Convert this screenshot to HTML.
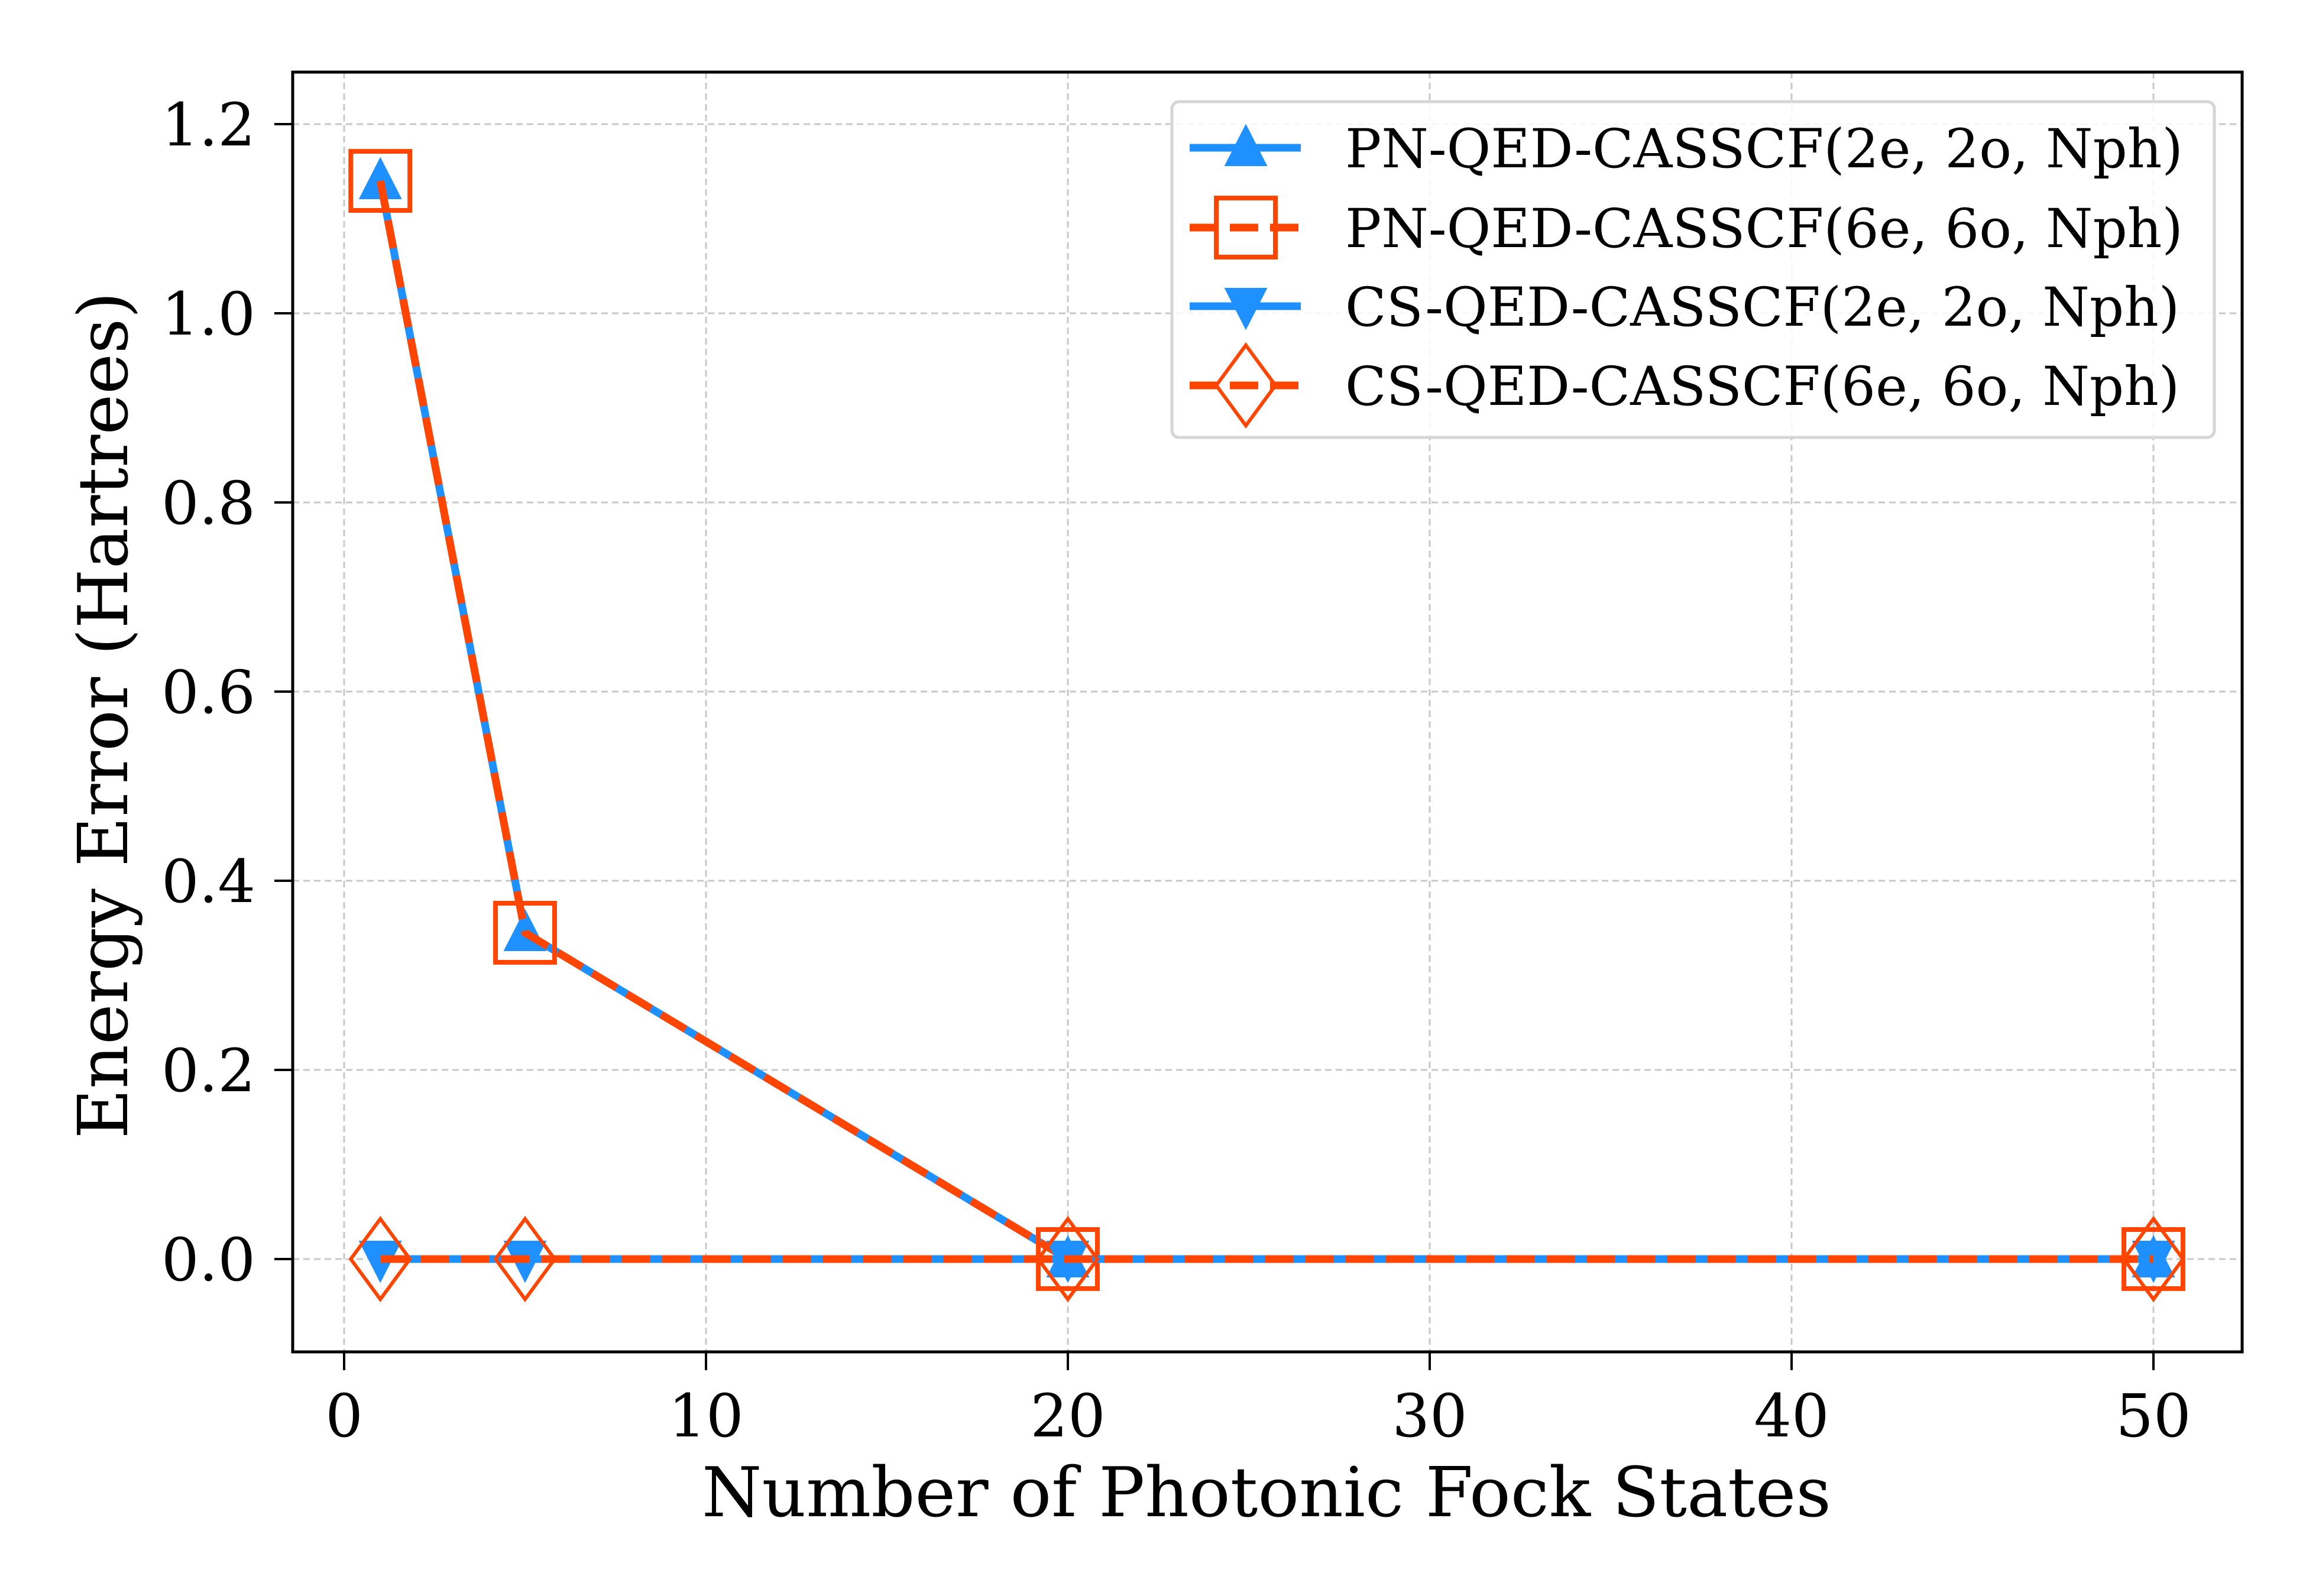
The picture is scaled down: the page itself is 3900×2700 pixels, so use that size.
<!DOCTYPE html>
<html><head><meta charset="utf-8"><style>
html,body{margin:0;padding:0;background:#fff;}
svg{display:block;font-family:"DejaVu Serif","Liberation Serif",serif;}
</style></head><body>
<svg id="chart" width="3900" height="2700" viewBox="0 0 3900 2700" xmlns="http://www.w3.org/2000/svg">
<rect width="3900" height="2700" fill="#fff"/>
<g id="grid"></g>
<g id="series"></g>
<rect x="495" y="122" width="3297" height="2165" fill="none" stroke="#000" stroke-width="5"/>
<g id="ticks"></g>
<text x="2142" y="2565" font-size="116" text-anchor="middle">Number of Photonic Fock States</text>
<text transform="translate(215,1210) rotate(-90)" font-size="116" text-anchor="middle">Energy Error (Hartrees)</text>
<g id="legend"></g>
</svg>
<script>
const xValues = [1, 5, 20, 50];
const pn2e = [1.14, 0.345, 0.0, 0.0];
const pn6e = [1.14, 0.345, 0.0, 0.0];
const cs2e = [0.0, 0.0, 0.0, 0.0];
const cs6e = [0.0, 0.0, 0.0, 0.0];
const xTicks = [0, 10, 20, 30, 40, 50];
const yTicks = [0.0, 0.2, 0.4, 0.6, 0.8, 1.0, 1.2];
const yTickLabels = ["0.0", "0.2", "0.4", "0.6", "0.8", "1.0", "1.2"];
const seriesNames = ["PN-QED-CASSCF(2e, 2o, Nph)", "PN-QED-CASSCF(6e, 6o, Nph)", "CS-QED-CASSCF(2e, 2o, Nph)", "CS-QED-CASSCF(6e, 6o, Nph)"];

const NS = "http://www.w3.org/2000/svg";
const BLUE = "#1e90ff", ORANGE = "#ff4500";
function xs(v){ return 582 + (v - 0) * (3642 - 582) / 50; }
function ys(v){ return 2130 - v * (2130 - 210) / 1.2; }
function mk(tag, attrs, parent){
  const e = document.createElementNS(NS, tag);
  for (const k in attrs) e.setAttribute(k, attrs[k]);
  parent.appendChild(e); return e;
}
const grid = document.getElementById('grid');
const ticks = document.getElementById('ticks');
xTicks.forEach(t => {
  const g = mk('line', {x1: xs(t), x2: xs(t), y1: 122, y2: 2287, stroke: '#c8c8c8', 'stroke-width': 3, 'stroke-dasharray': '11,7'}, grid);
  
  
  const tk = mk('line', {x1: xs(t), x2: xs(t), y1: 2287, y2: 2318, stroke: '#000', 'stroke-width': 4}, ticks);
  
  
  const tl = mk('text', {x: xs(t), y: 2430, 'font-size': 100, 'text-anchor': 'middle'}, ticks);
  tl.textContent = String(t);
  
  
});
yTicks.forEach((t, i) => {
  const g = mk('line', {x1: 495, x2: 3792, y1: ys(t), y2: ys(t), stroke: '#c8c8c8', 'stroke-width': 3, 'stroke-dasharray': '11,7'}, grid);
  
  
  const tk = mk('line', {x1: 464, x2: 495, y1: ys(t), y2: ys(t), stroke: '#000', 'stroke-width': 4}, ticks);
  
  
  const tl = mk('text', {x: 432, y: ys(t) + 36, 'font-size': 100, 'text-anchor': 'end'}, ticks);
  tl.textContent = yTickLabels[i];
  
  
});

function marker(type, cx, cy, parent, s){
  s = s || 1.35;
  if (type === 'up') return mk('polygon', {points: `${cx},${cy-30*s} ${cx-27*s},${cy+23*s} ${cx+27*s},${cy+23*s}`, fill: BLUE}, parent);
  if (type === 'down') return mk('polygon', {points: `${cx},${cy+30*s} ${cx-27*s},${cy-23*s} ${cx+27*s},${cy-23*s}`, fill: BLUE}, parent);
  if (type === 'square') return mk('rect', {x: cx-37*s, y: cy-37*s, width: 74*s, height: 74*s, fill: 'none', stroke: ORANGE, 'stroke-width': 8}, parent);
  if (type === 'diamond') return mk('polygon', {points: `${cx},${cy-68} ${cx+50},${cy} ${cx},${cy+68} ${cx-50},${cy}`, fill: 'none', stroke: ORANGE, 'stroke-width': 6}, parent);
}
const seriesG = document.getElementById('series');
const defs = [
  {vals: pn2e, color: BLUE, dash: null, m: 'up', name: 'series-pn-2e'},
  {vals: pn6e, color: ORANGE, dash: '48,20', m: 'square', name: 'series-pn-6e'},
  {vals: cs2e, color: BLUE, dash: null, m: 'down', name: 'series-cs-2e'},
  {vals: cs6e, color: ORANGE, dash: '48,20', m: 'diamond', name: 'series-cs-6e'}
];
defs.forEach(d => {
  const g = mk('g', {}, seriesG);
  
  
  const pts = xValues.map((x, i) => `${xs(x)},${ys(d.vals[i])}`).join(' ');
  const pl = mk('polyline', {points: pts, fill: 'none', stroke: d.color, 'stroke-width': 13, 'stroke-linejoin': 'round'}, g);
  if (d.dash) pl.setAttribute('stroke-dasharray', d.dash);
  
  
  xValues.forEach((x, i) => {
    const m = marker(d.m, xs(x), ys(d.vals[i]), g);
    
    
  });
});

const leg = document.getElementById('legend');
const box = mk('rect', {x: 1982, y: 172, width: 1763, height: 568, rx: 12, fill: '#fff', 'fill-opacity': 0.85, stroke: '#d6d6d6', 'stroke-width': 5}, leg);


const rowY = [250, 385, 518, 652];
defs.forEach((d, i) => {
  const g = mk('g', {}, leg);
  
  
  const ln = mk('line', {x1: 2012, x2: 2200, y1: rowY[i], y2: rowY[i], stroke: d.color, 'stroke-width': 13}, g);
  if (d.dash) ln.setAttribute('stroke-dasharray', d.dash);
  marker(d.m, 2107, rowY[i], g);
  const t = mk('text', {x: 2275, y: rowY[i] + 33, 'font-size': 91}, g);
  t.textContent = seriesNames[i];
});
</script>
</body></html>
